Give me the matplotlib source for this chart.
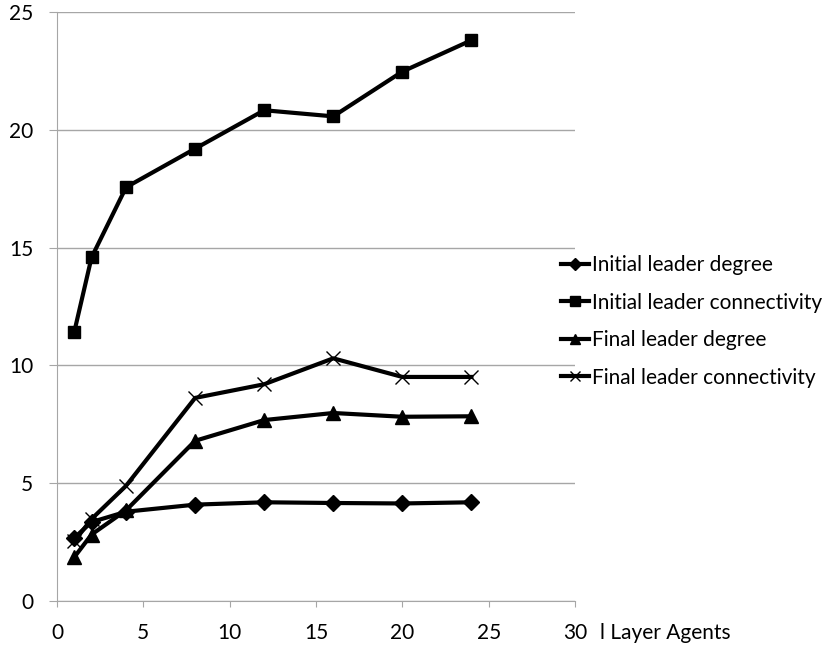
import matplotlib
matplotlib.use("Agg")
import matplotlib.pyplot as plt

x_agents = [1, 2, 4, 8, 12, 16, 20, 24]
initial_degree = [2.68, 3.35, 3.79, 4.09, 4.19, 4.16, 4.14, 4.19]
initial_connectivity = [11.42, 14.58, 17.56, 19.2, 20.83, 20.57, 22.47, 23.8]
final_degree = [1.86, 2.82, 3.85, 6.8, 7.68, 7.98, 7.82, 7.84]
final_connectivity = [2.53, 3.48, 4.89, 8.62, 9.2, 10.3, 9.51, 9.51]
series_names = ["Initial leader degree", "Initial leader connectivity",
                "Final leader degree", "Final leader connectivity"]
x_ticks = [0, 5, 10, 15, 20, 25, 30]
y_ticks = [0, 5, 10, 15, 20, 25]
x_label = "l Layer Agents"

plt.rcParams['font.family'] = ['Lato', 'DejaVu Sans']

fig = plt.figure(figsize=(8.26, 6.48), dpi=100)
ax = fig.add_axes([57/826, 1-601/648, (575-57)/826, (601-12)/648])

styles = [
    dict(marker='D', markersize=8),
    dict(marker='s', markersize=9),
    dict(marker='^', markersize=10),
    dict(marker='x', markersize=10, markeredgewidth=1.0),
]
data = [initial_degree, initial_connectivity, final_degree, final_connectivity]
handles = []
for vals, name, st in zip(data, series_names, styles):
    h, = ax.plot(x_agents, vals, color='black', linewidth=3, label=name,
                 markerfacecolor='black', markeredgecolor='black', zorder=3, **st)
    handles.append(h)

ax.set_xlim(0, 30)
ax.set_ylim(0, 25)
ax.set_xticks(x_ticks)
ax.set_yticks(y_ticks)
ax.yaxis.grid(True, color='#a6a6a6', linewidth=1)
ax.set_axisbelow(True)
for s in ['top', 'right']:
    ax.spines[s].set_visible(False)
for s in ['left', 'bottom']:
    ax.spines[s].set_color('#a6a6a6')
ax.tick_params(axis='both', colors='#a6a6a6', labelcolor='black', labelsize=15,
               direction='out')
ax.tick_params(axis='x', length=4.5, pad=11)
ax.tick_params(axis='y', length=6, pad=11)

fig.text(600/826, 1-633/648, x_label, fontsize=15, va='center', ha='left')

leg = fig.legend(handles=handles, loc='upper left', bbox_to_anchor=(561/826, 1-255/648),
                 frameon=False, fontsize=15, handlelength=1.35, handletextpad=0.12,
                 labelspacing=0.84, borderaxespad=0, borderpad=0, markerscale=0.75)

fig.savefig("out.png", dpi=100)
